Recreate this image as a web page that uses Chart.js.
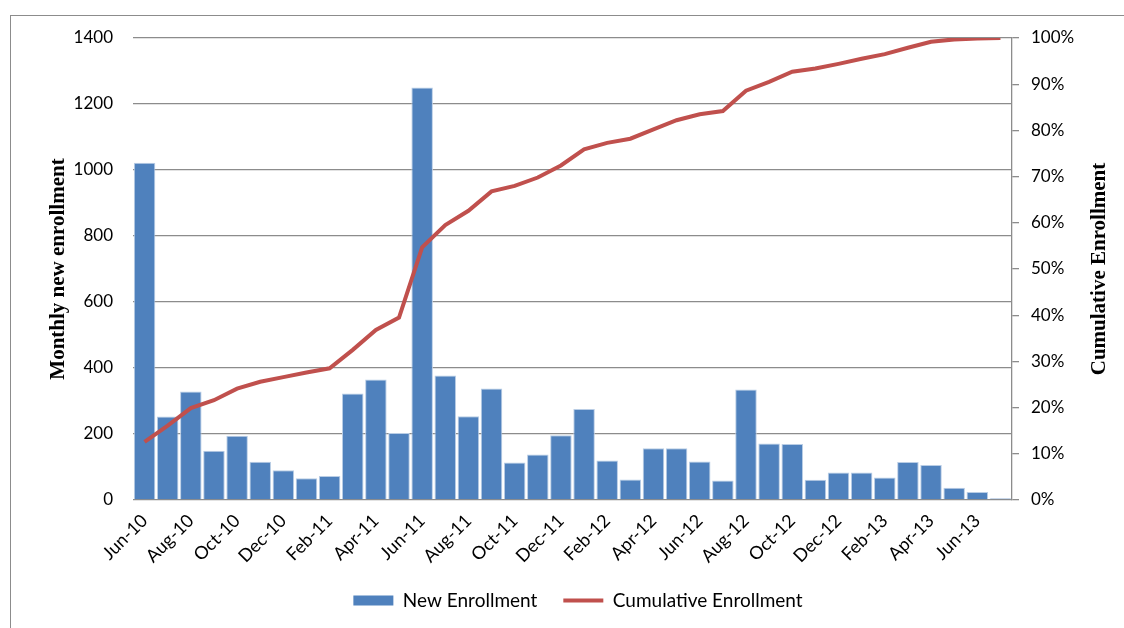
<!DOCTYPE html>
<html>
<head>
<meta charset="utf-8">
<script src="https://cdn.jsdelivr.net/npm/chart.js@4/dist/chart.umd.min.js"></script>
<style>
    html, body { margin: 0; padding: 0; background: #fff; overflow: hidden; }
    #cadre { position: absolute; left: 10px; top: 15px; width: 1300px; height: 800px; border: 1.5px solid #8c8c8c; }
    #zone { position: absolute; left: 0; top: 0; width: 1124px; height: 628px; }
</style>
</head>
<body>
<div id="cadre"></div>
<div id="zone"><canvas id="graphique" width="1124" height="628"></canvas></div>
<script>
// Mois (de juin 2010 à juillet 2013)
const mois = [
    "Jun-10", "Jul-10", "Aug-10", "Sep-10", "Oct-10", "Nov-10", "Dec-10",
    "Jan-11", "Feb-11", "Mar-11", "Apr-11", "May-11", "Jun-11", "Jul-11", "Aug-11", "Sep-11", "Oct-11", "Nov-11", "Dec-11",
    "Jan-12", "Feb-12", "Mar-12", "Apr-12", "May-12", "Jun-12", "Jul-12", "Aug-12", "Sep-12", "Oct-12", "Nov-12", "Dec-12",
    "Jan-13", "Feb-13", "Mar-13", "Apr-13", "May-13", "Jun-13", "Jul-13"
];

// Nouvelles inscriptions par mois
const nouvellesInscriptions = [
    1022, 253, 329, 149, 195, 116, 90,
    66, 73, 323, 365, 203, 1250, 377, 254, 338, 114, 138, 196,
    276, 120, 62, 157, 157, 117, 59, 335, 171, 170, 61, 83,
    83, 68, 115, 106, 37, 24, 5
];

// Inscriptions cumulées en %
const inscriptionsCumulees = [
    12.6, 16.1, 19.9, 21.6, 24.1, 25.6, 26.6,
    27.6, 28.5, 32.5, 36.8, 39.5, 54.7, 59.5, 62.6, 66.8, 68.0, 69.8, 72.4,
    75.9, 77.3, 78.2, 80.2, 82.2, 83.5, 84.2, 88.6, 90.5, 92.7, 93.4, 94.4,
    95.5, 96.5, 97.9, 99.2, 99.7, 99.9, 100
];

const policeTexte = "Lato, 'Open Sans', sans-serif";
const policeTitre = "'Liberation Serif', 'DejaVu Serif', serif";

// Titre de l'axe de droite, écrit de bas en haut comme dans Excel
const titreDroite = {
    id: "titreDroite",
    afterDraw(chart) {
        const ctx = chart.ctx;
        const zone = chart.chartArea;
        ctx.save();
        ctx.translate(chart.scales.yDroite.right - 24, (zone.top + zone.bottom) / 2);
        ctx.rotate(-Math.PI / 2);
        ctx.font = "bold 21px " + policeTitre;
        ctx.fillStyle = "#000";
        ctx.textAlign = "center";
        ctx.textBaseline = "middle";
        ctx.fillText("Cumulative Enrollment", 0, 0);
        ctx.restore();
    },
};

const canvasGraphique = document.getElementById("graphique");
const graphique = new Chart(canvasGraphique, {
    type: "bar",
    data: {
        labels: mois,
        datasets: [
            {
                type: "line",
                label: "Cumulative Enrollment",
                data: inscriptionsCumulees,
                yAxisID: "yDroite",
                borderColor: "#C0504D",
                backgroundColor: "#C0504D",
                borderWidth: 4,
                pointRadius: 0,
                tension: 0,
                order: 0,
            },
            {
                type: "bar",
                label: "New Enrollment",
                data: nouvellesInscriptions,
                yAxisID: "yGauche",
                backgroundColor: "#4F81BD",
                borderColor: "#B9CDE5",
                borderWidth: 1,
                categoryPercentage: 1,
                barPercentage: 0.93,
                order: 1,
            },
        ],
    },
    plugins: [titreDroite],
    options: {
        responsive: false,
        animation: false,
        layout: {
            padding: { left: 32, right: 0, top: 38, bottom: 8 },
        },
        plugins: {
            tooltip: { enabled: false },
            legend: {
                position: "bottom",
                reverse: true,
                labels: {
                    font: { family: policeTexte, size: 19 },
                    color: "#000",
                    usePointStyle: true,
                    pointStyleWidth: 40,
                    boxHeight: 10,
                    padding: 26,
                    generateLabels: (chart) => chart.data.datasets.map((ds, i) => ({
                        text: ds.label,
                        datasetIndex: i,
                        fillStyle: ds.backgroundColor,
                        strokeStyle: ds.type === "line" ? ds.borderColor : ds.backgroundColor,
                        lineWidth: ds.type === "line" ? 4 : 0,
                        pointStyle: ds.type === "line" ? "line" : "rect",
                        fontColor: "#000",
                    })),
                },
            },
        },
        scales: {
            x: {
                grid: { display: false, drawTicks: false },
                border: { display: false },
                ticks: {
                    autoSkip: false,
                    maxRotation: 45,
                    minRotation: 45,
                    padding: 10,
                    color: "#000",
                    font: { family: policeTexte, size: 18 },
                    callback: function (valeur, index) {
                        return index % 2 === 0 ? this.getLabelForValue(valeur) : "";
                    },
                },
                afterFit: (echelle) => { echelle.height = 65; },
            },
            yGauche: {
                position: "left",
                min: 0,
                max: 1400,
                ticks: {
                    stepSize: 200,
                    padding: 20,
                    color: "#000",
                    font: { family: policeTexte, size: 17 },
                    callback: (valeur) => String(valeur),
                },
                grid: { color: "#8c8c8c", lineWidth: 1.3, drawTicks: false },
                border: { display: false },
                title: {
                    display: true,
                    text: "Monthly new enrollment",
                    color: "#000",
                    font: { family: policeTitre, size: 21, weight: "bold" },
                    padding: { top: 14, bottom: 0 },
                },
                afterFit: (echelle) => { echelle.width = 101; },
            },
            yDroite: {
                position: "right",
                min: 0,
                max: 100,
                ticks: {
                    stepSize: 10,
                    padding: 12,
                    color: "#000",
                    font: { family: policeTexte, size: 17 },
                    callback: (valeur) => valeur + "%",
                },
                grid: { drawOnChartArea: false, color: "#8c8c8c", lineWidth: 1.3, tickLength: 7 },
                border: { display: true, color: "#8c8c8c", width: 1.3 },
                afterFit: (echelle) => { echelle.width = 112; },
            },
        },
    },
});
</script>
</body>
</html>
